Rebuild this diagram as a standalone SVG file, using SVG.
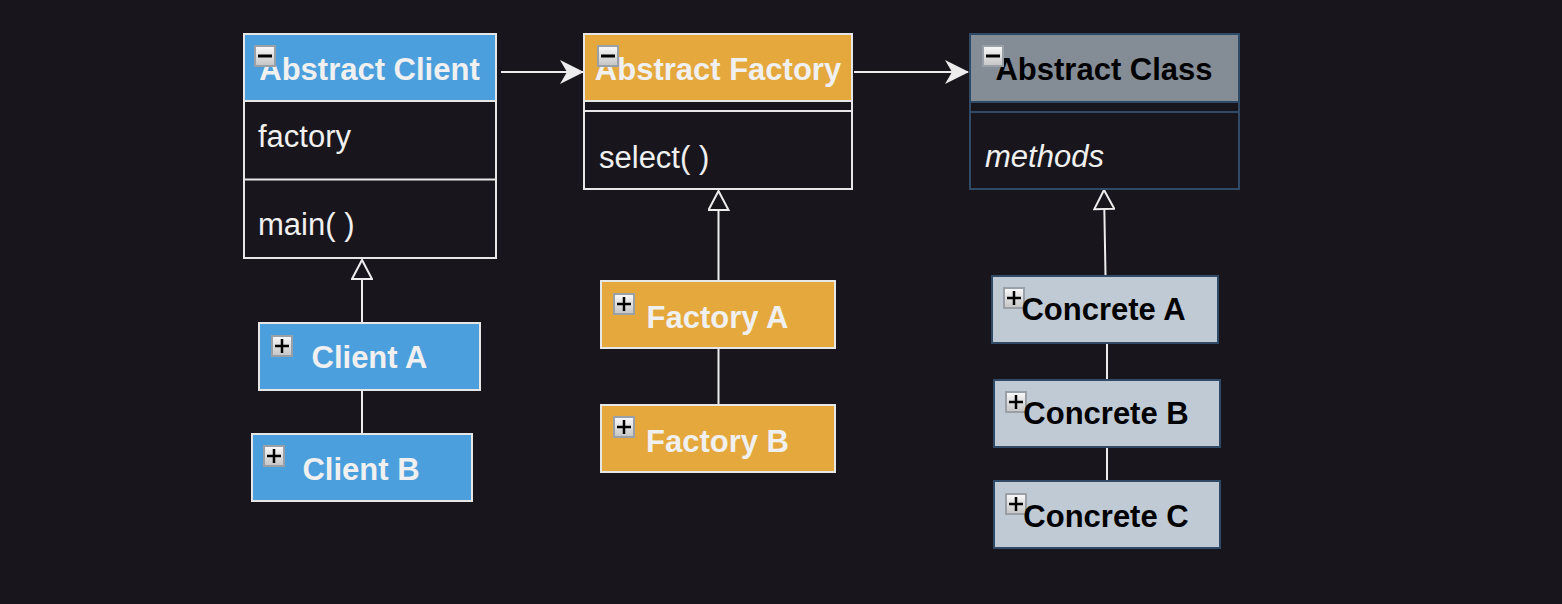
<svg xmlns="http://www.w3.org/2000/svg" width="1562" height="604" viewBox="0 0 1562 604">
<style>
text{font-family:"Liberation Sans",Arial,Helvetica,sans-serif;font-size:31px}
.hd{font-weight:bold;text-anchor:middle}
.w{fill:#f0f0f0}
.k{fill:#000}
.wb{stroke:#e6e6e6;stroke-width:2}
.db{stroke:#2e4a66;stroke-width:2}
.body{fill:#18161c}
.blue{fill:#4b9fdd}
.orange{fill:#e5a83d}
.gray{fill:#848d96}
.light{fill:#bfcad5}
.conn{stroke:#ececec;stroke-width:2;fill:none}
</style>
<defs>
<linearGradient id="ig" x1="0" y1="0" x2="0" y2="1">
<stop offset="0" stop-color="#fafafa"/>
<stop offset="1" stop-color="#c4c4c4"/>
</linearGradient>
<symbol id="minus" viewBox="0 0 22 22" width="22" height="22">
<rect x="1" y="1" width="20" height="20" fill="url(#ig)" stroke="#9aa0a8" stroke-width="2"/>
<rect x="4" y="9.5" width="14" height="3" fill="#000"/>
</symbol>
<symbol id="plus" viewBox="0 0 22 22" width="22" height="22">
<rect x="1" y="1" width="20" height="20" fill="url(#ig)" stroke="#9aa0a8" stroke-width="2"/>
<rect x="4" y="9.75" width="14" height="2.5" fill="#000"/>
<rect x="9.75" y="4" width="2.5" height="14" fill="#000"/>
</symbol>
<marker id="arr" markerUnits="userSpaceOnUse" viewBox="0 0 24 24" markerWidth="24" markerHeight="24" refX="23" refY="12" orient="auto">
<path d="M0,0 L24,12 L0,24 L7,12 Z" fill="#ececec"/>
</marker>
<marker id="tri" markerUnits="userSpaceOnUse" viewBox="0 0 24 22" markerWidth="24" markerHeight="22" refX="21" refY="11" orient="auto">
<path d="M2,1 L21,11 L2,21 Z" fill="#18161c" stroke="#ececec" stroke-width="2"/>
</marker>
</defs>
<rect x="0" y="0" width="1562" height="604" fill="#18161c"/>

<g id="connectors">
<line class="conn" x1="501" y1="72" x2="583" y2="72" marker-end="url(#arr)"/>
<line class="conn" x1="854" y1="72" x2="968" y2="72" marker-end="url(#arr)"/>
<line class="conn" x1="362" y1="322" x2="362" y2="260" marker-end="url(#tri)"/>
<line class="conn" x1="362" y1="390" x2="362" y2="433"/>
<line class="conn" x1="718.5" y1="280" x2="718.5" y2="191" marker-end="url(#tri)"/>
<line class="conn" x1="718.5" y1="349" x2="718.5" y2="405"/>
<line class="conn" x1="1105.5" y1="275" x2="1104" y2="190" marker-end="url(#tri)"/>
<line class="conn" x1="1107" y1="343" x2="1107" y2="379"/>
<line class="conn" x1="1107" y1="447" x2="1107" y2="481"/>
</g>

<g id="abstract-client">
<rect class="blue" x="244" y="34" width="252" height="67"/>
<rect class="body wb" x="244" y="101" width="252" height="157"/>
<line class="wb" x1="244" y1="179.5" x2="496" y2="179.5"/>
<rect class="wb" x="244" y="34" width="252" height="224" fill="none"/>
<text class="hd w" x="369.5" y="80">Abstract Client</text>
<use href="#minus" x="254" y="45"/>
<text class="w" x="258" y="147">factory</text>
<text class="w" x="258" y="235">main( )</text>
</g>

<g id="abstract-factory">
<rect class="orange" x="584" y="34" width="268" height="67"/>
<rect class="body wb" x="584" y="101" width="268" height="88"/>
<line class="wb" x1="584" y1="111" x2="852" y2="111"/>
<rect class="wb" x="584" y="34" width="268" height="155" fill="none"/>
<text class="hd w" x="718" y="80">Abstract Factory</text>
<use href="#minus" x="597" y="45"/>
<text class="w" x="599" y="168">select( )</text>
</g>

<g id="abstract-class">
<rect class="gray" x="970" y="34" width="269" height="68"/>
<rect class="body db" x="970" y="102" width="269" height="87"/>
<line class="db" x1="970" y1="112" x2="1239" y2="112"/>
<rect class="db" x="970" y="34" width="269" height="155" fill="none"/>
<text class="hd k" x="1104" y="80">Abstract Class</text>
<use href="#minus" x="982" y="45"/>
<text class="w" x="985" y="167" font-style="italic">methods</text>
</g>

<g id="client-a">
<rect class="blue wb" x="259" y="323" width="221" height="67"/>
<use href="#plus" x="271" y="335"/>
<text class="hd w" x="369.5" y="368">Client A</text>
</g>
<g id="client-b">
<rect class="blue wb" x="252" y="434" width="220" height="67"/>
<use href="#plus" x="263" y="445"/>
<text class="hd w" x="361" y="480">Client B</text>
</g>

<g id="factory-a">
<rect class="orange wb" x="601" y="281" width="234" height="67"/>
<use href="#plus" x="613" y="293"/>
<text class="hd w" x="717.5" y="328">Factory A</text>
</g>
<g id="factory-b">
<rect class="orange wb" x="601" y="405" width="234" height="67"/>
<use href="#plus" x="613" y="416"/>
<text class="hd w" x="717.5" y="452">Factory B</text>
</g>

<g id="concrete-a">
<rect class="light db" x="992" y="276" width="226" height="67"/>
<use href="#plus" x="1003" y="287"/>
<text class="hd k" x="1103.5" y="320">Concrete A</text>
</g>
<g id="concrete-b">
<rect class="light db" x="994" y="380" width="226" height="67"/>
<use href="#plus" x="1005" y="391"/>
<text class="hd k" x="1106" y="424">Concrete B</text>
</g>
<g id="concrete-c">
<rect class="light db" x="994" y="481" width="226" height="67"/>
<use href="#plus" x="1005" y="493"/>
<text class="hd k" x="1106" y="527">Concrete C</text>
</g>
</svg>
